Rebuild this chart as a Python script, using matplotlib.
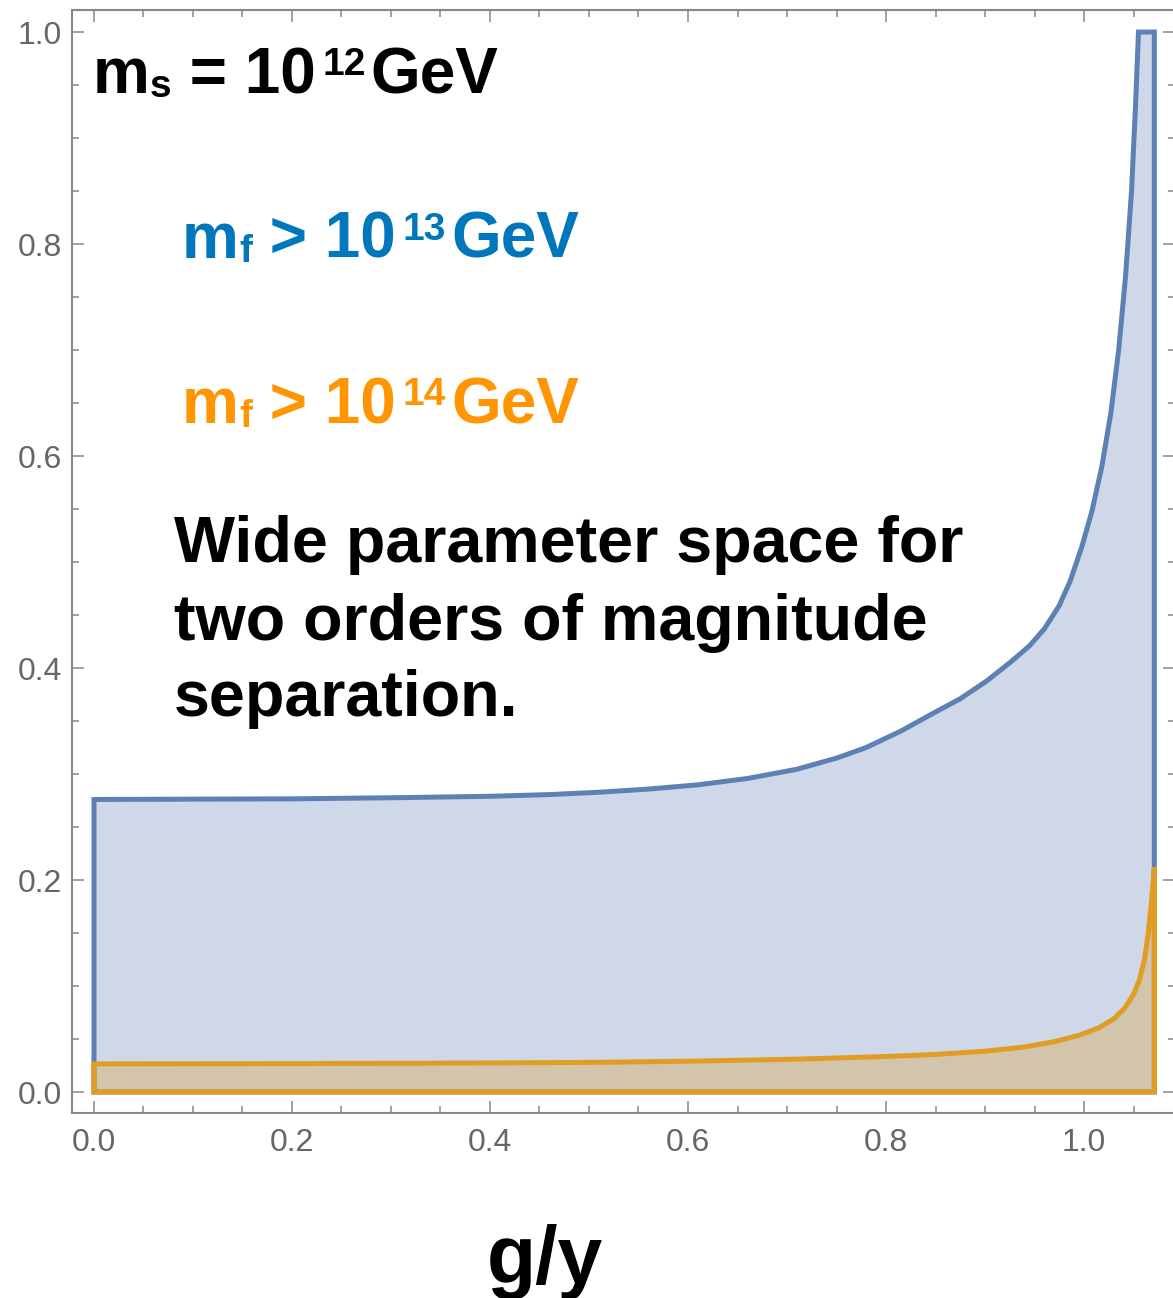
import matplotlib
matplotlib.use('Agg')
import matplotlib.pyplot as plt
from matplotlib.ticker import MultipleLocator

W, H = 1173, 1298
FONT = 'Liberation Sans'
plt.rcParams.update({'font.family': FONT})

BLUE_LINE, ORANGE_LINE = '#5E81B5', '#E19C24'
BLUE_TXT, ORANGE_TXT = '#0077BB', '#FF9500'
GREY = '#888888'

# upper edge of the m_f > 10^13 GeV region
blue_x = [0.0, 0.2, 0.3, 0.4, 0.46, 0.51, 0.56, 0.61, 0.66, 0.71, 0.75, 0.78,
          0.815, 0.847, 0.875, 0.902, 0.925, 0.945, 0.96, 0.975, 0.986, 0.998,
          1.008, 1.018, 1.027, 1.035, 1.042, 1.048, 1.052, 1.055]
blue_y = [0.276, 0.2766, 0.2776, 0.279, 0.2806, 0.2828, 0.2858, 0.2898,
          0.2958, 0.3045, 0.315, 0.325, 0.3405, 0.357, 0.371, 0.388, 0.405,
          0.421, 0.437, 0.459, 0.482, 0.515, 0.548, 0.59, 0.64, 0.70, 0.77,
          0.85, 0.93, 1.0]

# upper edge of the m_f > 10^14 GeV region
orange_x = [0.0, 0.2, 0.4, 0.51, 0.61, 0.71, 0.80, 0.85, 0.90, 0.94, 0.97,
            0.995, 1.015, 1.030, 1.041, 1.050, 1.056, 1.061, 1.065, 1.068,
            1.071]
orange_y = [0.0265, 0.0268, 0.0274, 0.028, 0.0292, 0.031, 0.0335, 0.0355,
            0.0385, 0.0425, 0.0475, 0.0535, 0.0605, 0.069, 0.079, 0.092,
            0.106, 0.125, 0.150, 0.178, 0.212]

x_edge = 1.071  # right boundary of both regions

fig = plt.figure(figsize=(W / 100, H / 100), dpi=100)
ax = fig.add_axes([72 / W, 185 / H, 1103 / W, 1103 / H])

bx = [0.0] + blue_x + [x_edge, x_edge]
by = [0.0] + blue_y + [1.0, 0.0]
ox = [0.0] + orange_x + [x_edge]
oy = [0.0] + orange_y + [0.0]

ax.fill(bx, by, color=BLUE_LINE, alpha=0.3, lw=0)
ax.fill(bx, by, fill=False, ec=BLUE_LINE, lw=3.6, joinstyle='miter')
ax.fill(ox, oy, color=ORANGE_LINE, alpha=0.3, lw=0)
ax.fill(ox, oy, fill=False, ec=ORANGE_LINE, lw=3.6, joinstyle='miter')

ax.set_xlim(-0.0222, 1.0919)
ax.set_ylim(-0.0198, 1.0208)
ax.xaxis.set_major_locator(MultipleLocator(0.2))
ax.xaxis.set_minor_locator(MultipleLocator(0.05))
ax.yaxis.set_major_locator(MultipleLocator(0.2))
ax.yaxis.set_minor_locator(MultipleLocator(0.05))
ax.xaxis.set_major_formatter(lambda v, p: f'{v:.1f}')
ax.yaxis.set_major_formatter(lambda v, p: f'{v:.1f}')
ax.tick_params(which='both', direction='in', top=True, right=True,
               color=GREY, width=1.1, labelsize=23, labelcolor='#666666')
ax.tick_params(axis='x', pad=11)
ax.tick_params(axis='y', pad=7)
ax.tick_params(which='major', length=8.6)
ax.tick_params(which='minor', length=5)
for s in ax.spines.values():
    s.set_color(GREY)
    s.set_linewidth(1.5)

renderer = fig.canvas.get_renderer()


def rich(x, y, parts, color):
    # parts: (text, fontsize, baseline shift px, gap before px); x, y in image px
    for txt, size, dy, gap in parts:
        x += gap
        t = fig.text(x / W, (H - y + dy) / H, txt, fontsize=size, color=color,
                     fontweight='bold', ha='left', va='baseline')
        x += t.get_window_extent(renderer).width


def mass_line(x, y, sub, rel, exp, color):
    rich(x, y, [('m', 46, 0, 0), (sub, 28, -4, 0), (f' {rel} 10', 46, 0, 0),
                (exp, 28, 18, 7), ('GeV', 46, 0, 5)], color)


mass_line(93, 93, 's', '=', '12', 'black')
mass_line(182, 258, 'f', '>', '13', BLUE_TXT)
mass_line(182, 423, 'f', '>', '14', ORANGE_TXT)

note = ['Wide parameter space for', 'two orders of magnitude', 'separation.']
for line, yb in zip(note, [562, 640, 716]):
    fig.text(174 / W, (H - yb) / H, line, fontsize=46.5, fontweight='bold',
             ha='left', va='baseline')

fig.text(545 / W, (H - 1283) / H, 'g/y', fontsize=58, fontweight='bold',
         ha='center', va='baseline')

fig.savefig('out.png', dpi=100)
